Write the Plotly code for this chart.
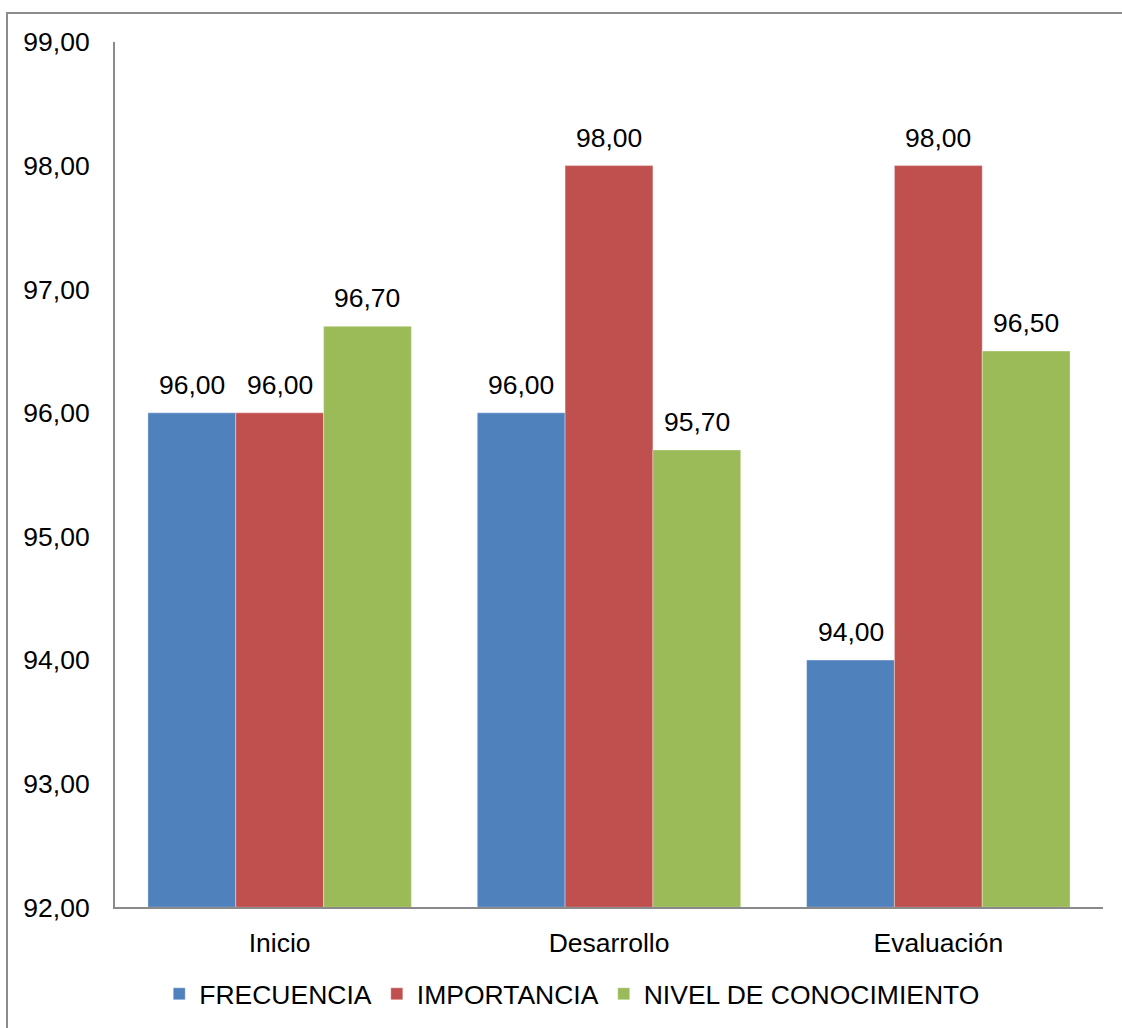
import plotly.graph_objects as go

categories = ["Inicio", "Desarrollo", "Evaluación"]
frecuencia = [96.00, 96.00, 94.00]
importancia = [96.00, 98.00, 98.00]
nivel = [96.70, 95.70, 96.50]
series_names = ["FRECUENCIA", "IMPORTANCIA", "NIVEL DE CONOCIMIENTO"]
series_colors = ["#4F81BD", "#C0504D", "#9BBB59"]
y_ticks = [92, 93, 94, 95, 96, 97, 98, 99]

FONT = "Liberation Sans, Arial, sans-serif"
FS = 26.5

L, R, T, B = 115, 1103, 42, 910
W, H = 1122, 1028
pw, ph = R - L, B - T
BARGAP = 0.2
n_series = 3
bar_px = pw / len(categories) * (1 - BARGAP) / n_series

fig = go.Figure()
annotations = []
for j, (name, vals, col) in enumerate(zip(series_names, [frecuencia, importancia, nivel], series_colors)):
    fig.add_trace(go.Bar(
        x=categories, y=[v - 92 for v in vals], base=92, name=name,
        marker=dict(color=col, line=dict(width=0.6, color="rgba(255,255,255,0.6)")),
        hoverinfo="skip",
    ))
    for c, v in zip(categories, vals):
        annotations.append(dict(
            x=c, y=v, xref="x", yref="y", text=f"{v:.2f}".replace(".", ","),
            showarrow=False, xanchor="center", yanchor="bottom",
            xshift=(j - (n_series - 1) / 2) * bar_px, yshift=11,
            font=dict(family=FONT, size=FS, color="#000000"),
        ))

fig.update_layout(
    width=W, height=H,
    margin=dict(l=L, r=W - R, t=T, b=H - B, pad=0),
    paper_bgcolor="white", plot_bgcolor="white",
    barmode="group", bargap=BARGAP, bargroupgap=0,
    separators=",.",
    font=dict(family=FONT, size=FS, color="#000000"),
    showlegend=True,
    legend=dict(orientation="h", xref="container", x=0.51, xanchor="center",
                yref="container", y=0.033, yanchor="middle",
                font=dict(family=FONT, size=FS, color="#000000"),
                itemwidth=30, tracegroupgap=0, traceorder="normal"),
    annotations=annotations,
    shapes=[dict(type="rect", xref="paper", yref="paper",
                 x0=(7 - L) / pw, x1=(W + 5 - L) / pw,
                 y0=(B - (H + 5)) / ph, y1=(B - 13) / ph,
                 line=dict(color="#8c8c8c", width=2), fillcolor="rgba(0,0,0,0)",
                 layer="below")],
)
fig.update_yaxes(range=[92, 99], tickvals=y_ticks, tickformat=".2f",
                 showgrid=False, zeroline=False, showline=True,
                 linecolor="#8a8a8a", linewidth=2, ticks="",
                 ticklabelstandoff=18,
                 tickfont=dict(family=FONT, size=FS, color="#000000"))
fig.update_xaxes(showgrid=False, showline=True, linecolor="#8a8a8a", linewidth=2,
                 ticks="", ticklabelstandoff=11,
                 tickfont=dict(family=FONT, size=FS, color="#000000"))

fig.write_html("out.html", config={"displayModeBar": False},
               post_script="document.body.style.margin='0';")
